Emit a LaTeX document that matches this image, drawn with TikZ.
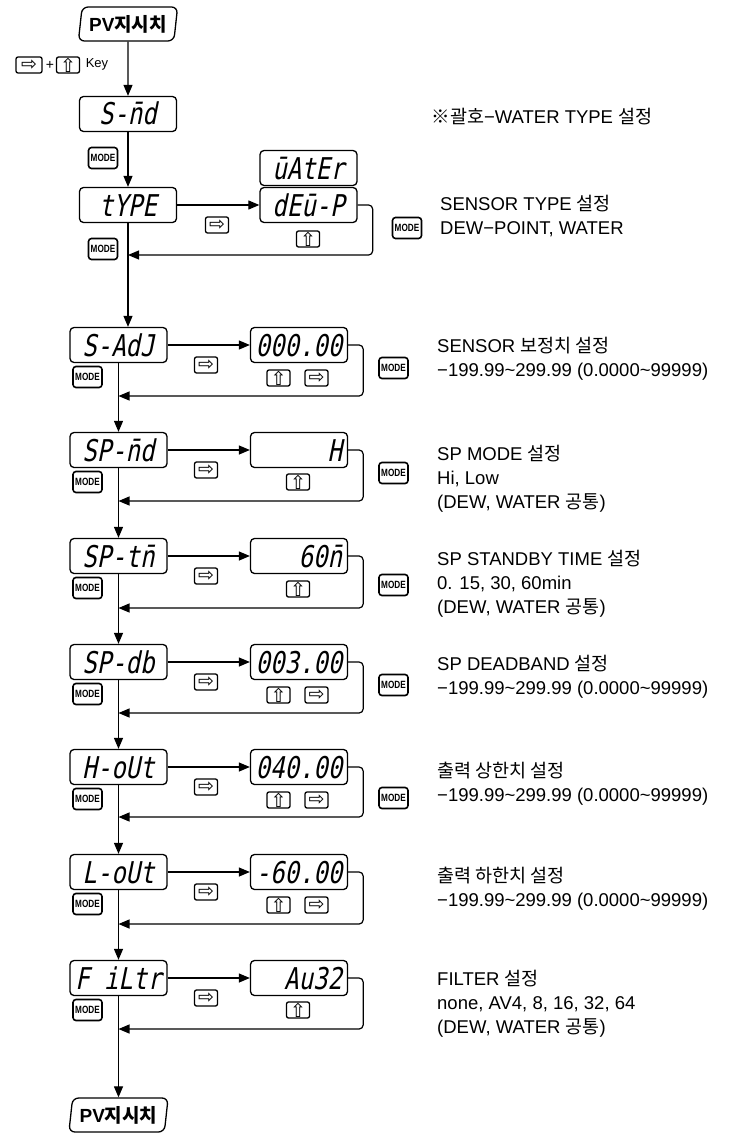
\documentclass[tikz,border=0pt]{standalone}
\usepackage{fontspec}
\setmainfont{Liberation Sans}
\newfontfamily\krfont{Noto Sans CJK KR}
\newfontfamily\segfont{DejaVu Sans Mono}[FakeSlant=0.2,FakeStretch=0.8]
\newfontfamily\symfont{DejaVu Sans}
\newfontfamily\keyfont{Liberation Sans}[FakeStretch=0.78]
\usepackage{tikz}
\usetikzlibrary{arrows.meta, shapes.geometric}
\newcommand{\kr}[1]{{\krfont #1}}

\begin{document}
\begin{tikzpicture}[
  x=1pt, y=-1pt,
  every node/.style={font=\fontsize{18.5}{24}\selectfont},
  disp/.style={draw, line width=1.3pt, rounded corners=4pt, minimum width=97pt, minimum height=35pt, inner sep=0pt, text height=22pt, text depth=0pt, font=\segfont\fontsize{30}{30}\selectfont},
  dispr/.style={disp, text width=86pt, align=right},
  pv/.style={draw, line width=1.3pt, trapezium, trapezium stretches=true, trapezium left angle=80, trapezium right angle=100, rounded corners=6pt, minimum width=100pt, minimum height=34pt, inner sep=0pt, font=\bfseries\fontsize{19}{19}\selectfont},
  keybox/.style={draw, line width=1.3pt, rounded corners=2pt, minimum width=23pt, minimum height=16pt, inner sep=0pt, font=\symfont\fontsize{19}{19}\selectfont},
  modekey/.style={draw, line width=1.6pt, rounded corners=3pt, minimum width=29pt, minimum height=21pt, inner sep=0pt, font=\keyfont\bfseries\fontsize{10.5}{10.5}\selectfont},
  desc/.style={anchor=north west, align=left, inner sep=0pt},
  arrow/.style={-{Triangle[length=11pt, width=9pt]}, line width=1.2pt},
  back/.style={arrow, rounded corners=4pt}
]
  \useasboundingbox (0,0) rectangle (743,1134);

  % start
  \node[pv] (pvtop) at (128,24) {PV\kr{\bfseries 지시치}};
  \node[keybox, minimum width=26pt] (kright0) at (29,65) {⇨};
  \node[font=\fontsize{14}{14}\selectfont] (plus) at (50,65) {+};
  \node[keybox] (kup0) at (68,65) {⇧};
  \node[font=\fontsize{13}{13}\selectfont] (keytxt) at (97,64) {Key};

  \node[disp] (smd) at (128,114) {S-n̄d};
  \node[anchor=base west] (note) at (428,123.5) {\kr{※괄호}−WATER TYPE \kr{설정}};
  \node[modekey] (mode0) at (103,158) {MODE};

  % sensor type
  \node[disp] (type) at (128,205) {tYPE};
  \node[disp] (water) at (308.5,168) {ūAtEr};
  \node[disp] (dewp) at (308.5,205) {dEū-P};
  \node[keybox] (kright1) at (217,225) {⇨};
  \node[keybox] (kup1) at (308,239) {⇧};
  \node[modekey] (mode1) at (103,249) {MODE};
  \node[modekey] (rmode1) at (407,228) {MODE};
  \node[desc] (desc1) at (440,195) {SENSOR TYPE \kr{설정}\\DEW−POINT, WATER};
  \coordinate (ret1) at (128,255);

  % sensor adjust
  \node[disp] (sadj) at (118.5,345) {S-AdJ};
  \node[disp] (val2) at (299,345) {000.00};
  \node[modekey] (mode2) at (87.5,377) {MODE};
  \node[keybox] (kright2) at (206,365) {⇨};
  \node[keybox] (kup2) at (278.5,378) {⇧};
  \node[keybox] (kmove2) at (316.5,378) {⇨};
  \node[modekey] (rmode2) at (393.5,368) {MODE};
  \node[desc] (desc2) at (437,337) {SENSOR \kr{보정치 설정}\\−199.99\textasciitilde299.99 (0.0000\textasciitilde99999)};
  \coordinate (ret2) at (118.5,396);

  % sp mode
  \node[disp] (spmd) at (118.5,450) {SP-n̄d};
  \node[dispr] (val3) at (299,450) {H};
  \node[modekey] (mode3) at (87.5,482) {MODE};
  \node[keybox] (kright3) at (206,470) {⇨};
  \node[keybox] (kup3) at (298,482) {⇧};
  \node[modekey] (rmode3) at (393.5,473) {MODE};
  \node[desc] (desc3) at (437,445) {SP MODE \kr{설정}\\Hi, Low\\(DEW, WATER \kr{공통})};
  \coordinate (ret3) at (118.5,501);

  % sp standby time
  \node[disp] (sptm) at (118.5,556) {SP-tn̄};
  \node[dispr] (val4) at (299,556) {60n̄};
  \node[modekey] (mode4) at (87.5,588) {MODE};
  \node[keybox] (kright4) at (206,576) {⇨};
  \node[keybox] (kup4) at (298,589) {⇧};
  \node[modekey] (rmode4) at (393.5,585) {MODE};
  \node[desc] (desc4) at (437,550) {SP STANDBY TIME \kr{설정}\\0. 15, 30, 60min\\(DEW, WATER \kr{공통})};
  \coordinate (ret4) at (118.5,608);

  % sp deadband
  \node[disp] (spdb) at (118.5,662) {SP-db};
  \node[disp] (val5) at (299,662) {003.00};
  \node[modekey] (mode5) at (87.5,694) {MODE};
  \node[keybox] (kright5) at (206,682) {⇨};
  \node[keybox] (kup5) at (278.5,695) {⇧};
  \node[keybox] (kmove5) at (316.5,695) {⇨};
  \node[modekey] (rmode5) at (393.5,685) {MODE};
  \node[desc] (desc5) at (437,655) {SP DEADBAND \kr{설정}\\−199.99\textasciitilde299.99 (0.0000\textasciitilde99999)};
  \coordinate (ret5) at (118.5,713);

  % high output
  \node[disp] (hout) at (118.5,767) {H-oUt};
  \node[disp] (val6) at (299,767) {040.00};
  \node[modekey] (mode6) at (87.5,799) {MODE};
  \node[keybox] (kright6) at (206,787) {⇨};
  \node[keybox] (kup6) at (278.5,800) {⇧};
  \node[keybox] (kmove6) at (316.5,800) {⇨};
  \node[modekey] (rmode6) at (393.5,798) {MODE};
  \node[desc] (desc6) at (437,762) {\kr{출력 상한치 설정}\\−199.99\textasciitilde299.99 (0.0000\textasciitilde99999)};
  \coordinate (ret6) at (118.5,817);

  % low output
  \node[disp] (lout) at (118.5,872) {L-oUt};
  \node[disp] (val7) at (299,872) {-60.00};
  \node[modekey] (mode7) at (87.5,904) {MODE};
  \node[keybox] (kright7) at (206,892) {⇨};
  \node[keybox] (kup7) at (278.5,905) {⇧};
  \node[keybox] (kmove7) at (316.5,905) {⇨};
  \node[desc] (desc7) at (437,867) {\kr{출력 하한치 설정}\\−199.99\textasciitilde299.99 (0.0000\textasciitilde99999)};
  \coordinate (ret7) at (118.5,924);

  % filter
  \node[disp] (filt) at (118.5,978) {F iLtr};
  \node[dispr] (val8) at (299,978) {Au32};
  \node[modekey] (mode8) at (87.5,1010) {MODE};
  \node[keybox] (kright8) at (206,998) {⇨};
  \node[keybox] (kup8) at (298,1010) {⇧};
  \node[desc] (desc8) at (437,970) {FILTER \kr{설정}\\none, AV4, 8, 16, 32, 64\\(DEW, WATER \kr{공통})};
  \coordinate (ret8) at (118.5,1029);

  \node[pv] (pvbot) at (118.5,1115) {PV\kr{\bfseries 지시치}};

  % arrows
  \draw[arrow] (pvtop) -- (smd);
  \draw[arrow] (smd) -- (type);
  \draw[arrow] (type) -- (dewp);
  \draw[back] (dewp.east) -- ++(15,0) |- (ret1);
  \draw[arrow] (type.south) -- (type.south |- sadj.north);

  \draw[arrow] (sadj) -- (val2);
  \draw[back] (val2.east) -- ++(15,0) |- (ret2);
  \draw[arrow] (sadj) -- (spmd);
  \draw[arrow] (spmd) -- (val3);
  \draw[back] (val3.east) -- ++(15,0) |- (ret3);
  \draw[arrow] (spmd) -- (sptm);
  \draw[arrow] (sptm) -- (val4);
  \draw[back] (val4.east) -- ++(15,0) |- (ret4);
  \draw[arrow] (sptm) -- (spdb);
  \draw[arrow] (spdb) -- (val5);
  \draw[back] (val5.east) -- ++(15,0) |- (ret5);
  \draw[arrow] (spdb) -- (hout);
  \draw[arrow] (hout) -- (val6);
  \draw[back] (val6.east) -- ++(15,0) |- (ret6);
  \draw[arrow] (hout) -- (lout);
  \draw[arrow] (lout) -- (val7);
  \draw[back] (val7.east) -- ++(15,0) |- (ret7);
  \draw[arrow] (lout) -- (filt);
  \draw[arrow] (filt) -- (val8);
  \draw[back] (val8.east) -- ++(15,0) |- (ret8);
  \draw[arrow] (filt) -- (pvbot);

\end{tikzpicture}
\end{document}
